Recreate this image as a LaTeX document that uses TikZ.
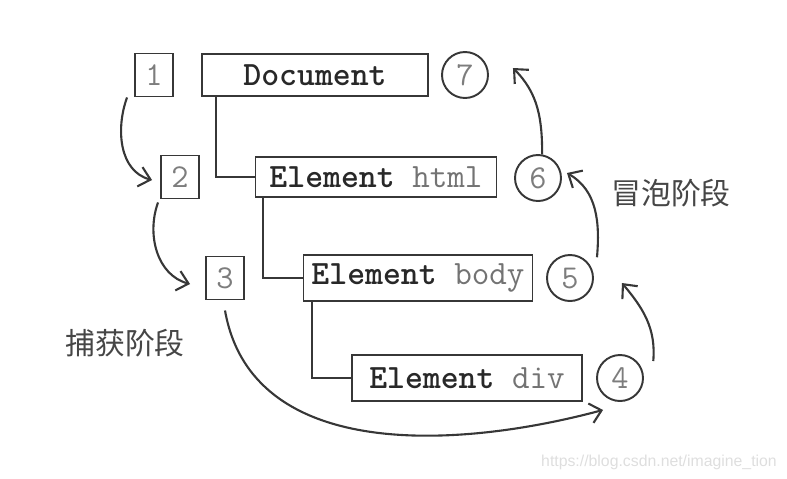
\documentclass[tikz,border=0pt]{standalone}
\usepackage{fontspec}
\newfontfamily\cjk{Noto Sans CJK SC}
\newfontfamily\markfont{Liberation Sans}
\usetikzlibrary{arrows.meta}
\definecolor{domline}{RGB}{55, 55, 55}
\definecolor{domtext}{RGB}{40, 40, 40}
\definecolor{domdigit}{RGB}{125, 125, 125}
\definecolor{domtag}{RGB}{115, 115, 115}
\definecolor{domphase}{RGB}{70, 70, 70}
\definecolor{dommark}{RGB}{222, 222, 222}

\begin{document}
\begin{tikzpicture}[x=0.02cm, y=0.02cm,
    numbox/.style={draw=domline, line width=1.1pt, minimum width=0.76cm, minimum height=0.86cm, inner sep=0pt, text=domdigit, font=\ttfamily\fontsize{19}{19}\selectfont},
    numcirc/.style={circle, draw=domline, line width=1.1pt, minimum size=0.92cm, inner sep=0pt, text=domdigit, font=\ttfamily\fontsize{19}{19}\selectfont},
    elem/.style={draw=domline, line width=1.1pt, inner sep=0pt, text=domtext, font=\ttfamily\fontsize{19.4}{19.4}\selectfont},
    flow/.style={draw=domline, line width=1.2pt, -{Straight Barb[length=2.2mm, width=4mm]}},
    phase/.style={text=domphase, font=\cjk\fontsize{17}{17}\selectfont}]
    \useasboundingbox (0,0) rectangle (787,-478);

    % Tree boxes
    \node[elem, minimum width=4.52cm, minimum height=0.84cm] (doc) at (315,-75) {\textbf{Document}};
    \node[elem, minimum width=4.82cm, minimum height=0.80cm] (html) at (376,-177) {\textbf{Element} \textcolor{domtag}{html}};
    \node[elem, minimum width=4.58cm, minimum height=0.92cm] (body) at (418,-278) {\textbf{Element} \textcolor{domtag}{body}};
    \node[elem, minimum width=4.60cm, minimum height=0.92cm] (div) at (467,-378) {\textbf{Element} \textcolor{domtag}{div}};

    % Capture steps
    \node[numbox] (n1) at (154,-75) {1};
    \node[numbox] (n2) at (180,-177) {2};
    \node[numbox] (n3) at (225,-278) {3};

    % Bubble steps
    \node[numcirc] (c4) at (620,-378) {4};
    \node[numcirc] (c5) at (570,-278) {5};
    \node[numcirc] (c6) at (538,-178) {6};
    \node[numcirc] (c7) at (465,-75) {7};

    % Phase labels
    \node[phase] (capture) at (125,-343) {捕获阶段};
    \node[phase] (bubble) at (671,-193) {冒泡阶段};

    % Tree lines
    \draw[domline, line width=1.1pt] ([xshift=0.3cm]doc.south west) |- (html.west);
    \draw[domline, line width=1.1pt] ([xshift=0.16cm]html.south west) |- (body.west);
    \draw[domline, line width=1.1pt] ([xshift=0.18cm]body.south west) |- (div.west);

    % Capture arrows
    \draw[flow] ([xshift=-0.14cm]n1.south west) to[out=250, in=165] ([xshift=-0.16cm, yshift=-0.06cm]n2.west);
    \draw[flow] ([xshift=-0.04cm, yshift=-0.06cm]n2.south west) to[out=250, in=165] ([xshift=-0.3cm, yshift=-0.12cm]n3.west);
    \draw[flow] ([yshift=-0.2cm]n3.south) to[out=-80, in=195] ([yshift=-0.3cm]c4.225);

    % Bubble arrows
    \draw[flow] ([xshift=0.25cm, yshift=0.1cm]c4.30) to[out=85, in=-50] ([xshift=0.56cm, yshift=-0.1cm]c5.east);
    \draw[flow] ([xshift=0.3cm]c5.60) to[out=85, in=-30] ([xshift=0.1cm, yshift=0.1cm]c6.east);
    \draw[flow] (c6.80) to[out=90, in=-45] ([xshift=0.48cm, yshift=0.14cm]c7.east);

    % Watermark
    \node[text=dommark, font=\markfont\fontsize{9}{9}\selectfont] (mark) at (659,-462) {https://blog.csdn.net/imagine\_tion};
\end{tikzpicture}
\end{document}
